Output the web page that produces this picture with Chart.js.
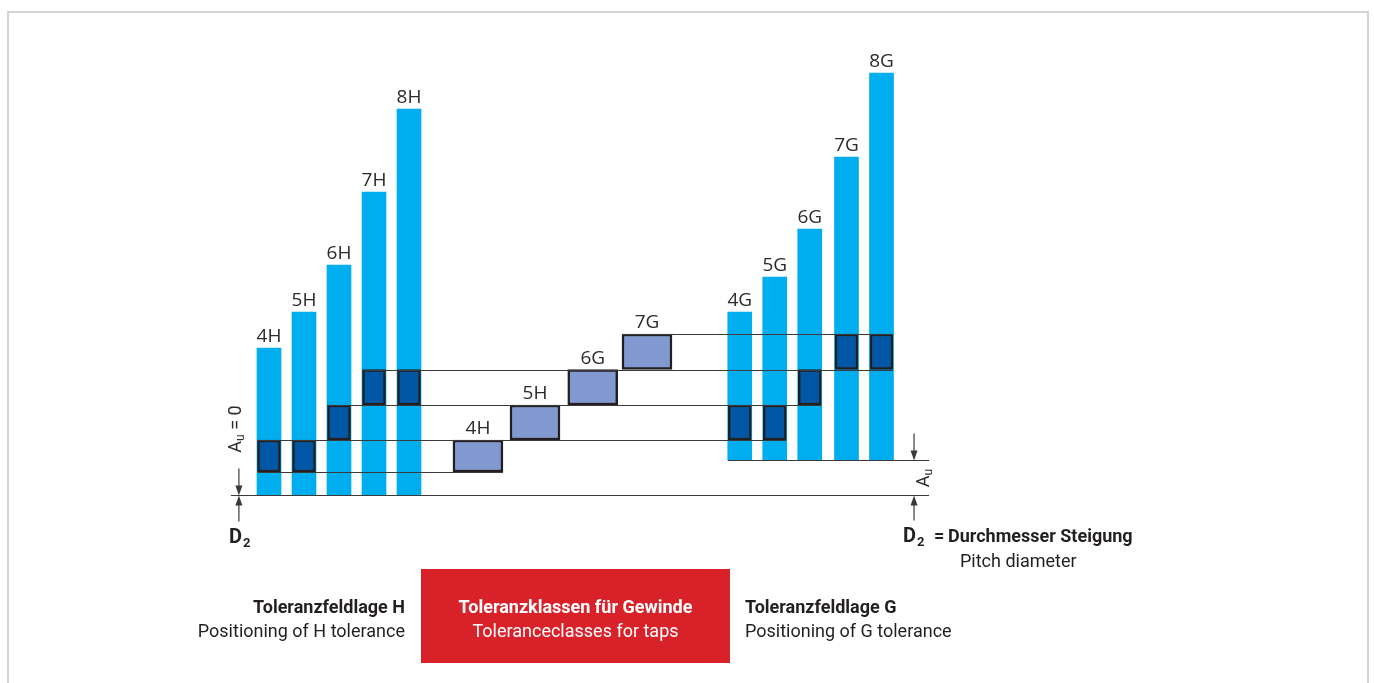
<!DOCTYPE html>
<html>
<head>
<meta charset="utf-8">
<title>Toleranzklassen für Gewinde</title>
<script src="https://cdn.jsdelivr.net/npm/chart.js@4/dist/chart.umd.min.js"></script>
<style>
  html, body { margin: 0; padding: 0; background: #fff; }
  #wrap { position: relative; width: 1374px; height: 683px; overflow: hidden;
          font-family: Roboto, "Liberation Sans", sans-serif; color: #231f20; }
  #frame { position: absolute; left: 7px; top: 11px; width: 1358px; height: 720px;
           border: 2px solid #d3d3d3; border-bottom: none; }
  #chart { position: absolute; left: 0; top: 0; }
  .t { position: absolute; font-size: 18px; line-height: 24px; white-space: nowrap; }
  .b { font-weight: bold; }
  .r { text-align: right; }
  .sub { font-size: 13px; position: relative; top: 4px; margin-left: 1px; }
  #redbox { position: absolute; left: 421px; top: 569px; width: 309px; height: 94px; background: #d9212a; }
  #redbox .t { color: #fff; left: 0; width: 309px; text-align: center; }
</style>
</head>
<body>
<div id="wrap">
  <div id="frame"></div>
  <canvas id="chart" width="1374" height="683"></canvas>

  <div class="t b" style="left:229px; top:524px; font-size:20px;">D<span class="sub">2</span></div>
  <div class="t b" style="left:903px; top:523px; font-size:20px;">D<span class="sub">2</span></div>
  <div class="t b" style="left:934px; top:524px;">=</div>
  <div class="t b" style="left:948px; top:524px;">Durchmesser Steigung</div>
  <div class="t" style="left:960px; top:549px;">Pitch diameter</div>

  <div class="t b r" style="right:969px; top:595px;">Toleranzfeldlage H</div>
  <div class="t r" style="right:969px; top:619px;">Positioning of H tolerance</div>

  <div id="redbox">
    <div class="t b" style="top:26px;">Toleranzklassen für Gewinde</div>
    <div class="t" style="top:50px;">Toleranceclasses for taps</div>
  </div>

  <div class="t b" style="left:745px; top:595px;">Toleranzfeldlage G</div>
  <div class="t" style="left:745px; top:619px;">Positioning of G tolerance</div>
</div>

<script>
// Toleranzfeldlage H (Balken ab D2 = 0)
const hLabels = ['4H', '5H', '6H', '7H', '8H'];
const hPos = [1, 2, 3, 4, 5];
const hTops = [147, 183, 230, 303, 386];
const hBoxes = [[23, 55], [23, 55], [55, 90], [90, 125.5], [90, 125.5]];

// Toleranzfeldlage G (Balken ab A_u)
const gLabels = ['4G', '5G', '6G', '7G', '8G'];
const gPos = [14.45, 15.45, 16.45, 17.5, 18.5];
const gBase = 35;
const gTops = [183, 218, 266, 338, 422];
const gBoxes = [[55, 90], [55, 90], [90, 125.5], [125.5, 161], [125.5, 161]];

// Toleranzklassen in der Mitte
const midLabels = ['4H', '5H', '6G', '7G'];
const midPos = [6.97, 8.6, 10.25, 11.8];
const midBoxes = [[23, 55], [55, 90], [90, 125.5], [125.5, 161]];

// Hilfslinien und Maßpfeile
const levels = [23, 55, 90, 125.5, 161];
const dimPos = [0.14, 19.43];

const lightBlue = '#00adee';
const darkBlue = '#0057a5';
const violet = '#8099d1';
const edge = '#231f20';

function floating(pos, ranges) {
    return pos.map((x, i) => ({ x: x, y: ranges[i] }));
}

function line(ctx, x1, y1, x2, y2) {
    ctx.beginPath();
    ctx.moveTo(x1, y1);
    ctx.lineTo(x2, y2);
    ctx.stroke();
}

function arrow(ctx, x, from, to) {
    const dir = Math.sign(to - from);
    line(ctx, x, from, x, to - dir * 8);
    ctx.beginPath();
    ctx.moveTo(x, to);
    ctx.lineTo(x - 3.5, to - dir * 10);
    ctx.lineTo(x + 3.5, to - dir * 10);
    ctx.closePath();
    ctx.fill();
}

function rotatedAu(ctx, cx, cy, suffix) {
    ctx.save();
    ctx.translate(cx, cy);
    ctx.rotate(-Math.PI / 2);
    ctx.textAlign = 'left';
    ctx.textBaseline = 'alphabetic';
    const big = '18px Roboto', small = '12px Roboto';
    ctx.font = big;
    const wA = ctx.measureText('A').width;
    const ws = suffix ? ctx.measureText(suffix).width : 0;
    ctx.font = small;
    const wu = ctx.measureText('u').width;
    let x = -(wA + wu + ws) / 2;
    ctx.font = big;
    ctx.fillText('A', x, 6);
    x += wA;
    ctx.font = small;
    ctx.fillText('u', x, 9);
    x += wu;
    if (suffix) {
        ctx.font = big;
        ctx.fillText(suffix, x, 6);
    }
    ctx.restore();
}

// Linien, Pfeile und Beschriftungen
const annotations = {
    id: 'annotations',
    afterDatasetsDraw(chart) {
        const ctx = chart.ctx;
        const xs = chart.scales.x, ys = chart.scales.y;
        ctx.save();
        ctx.strokeStyle = '#3a3a3a';
        ctx.fillStyle = '#3a3a3a';
        ctx.lineWidth = 1.2;

        const boxes = [];
        [[2, hBoxes], [3, gBoxes], [4, midBoxes]].forEach(([ds, ranges]) => {
            chart.getDatasetMeta(ds).data.forEach((el, i) => {
                boxes.push({ lo: ranges[i][0], hi: ranges[i][1],
                             left: el.x - el.width / 2, right: el.x + el.width / 2 });
            });
        });
        levels.forEach(lv => {
            const hit = boxes.filter(b => b.lo === lv || b.hi === lv);
            const left = Math.min(...hit.map(b => b.left));
            const right = Math.max(...hit.map(b => b.right));
            const py = Math.round(ys.getPixelForValue(lv)) + 0.5;
            line(ctx, left, py, right, py);
        });

        const dl = xs.getPixelForValue(dimPos[0]);
        const dr = xs.getPixelForValue(dimPos[1]);
        const y0 = Math.round(ys.getPixelForValue(0)) + 0.5;
        const yg = Math.round(ys.getPixelForValue(gBase)) + 0.5;
        line(ctx, dl - 8, y0, dr + 15, y0);
        const g0 = chart.getDatasetMeta(1).data[0];
        line(ctx, g0.x - g0.width / 2, yg, dr + 15, yg);

        arrow(ctx, dl, y0 - 27, y0);
        arrow(ctx, dl, y0 + 26, y0);
        arrow(ctx, dr, yg - 27, yg);
        arrow(ctx, dr, y0 + 25, y0);

        ctx.fillStyle = '#2b2b2b';
        rotatedAu(ctx, dl - 4, ys.getPixelForValue(66), ' = 0');
        rotatedAu(ctx, dr + 9, (y0 + yg) / 2, '');

        ctx.font = '19px "Open Sans"';
        ctx.textAlign = 'center';
        ctx.textBaseline = 'alphabetic';
        [[0, hLabels], [1, gLabels], [4, midLabels]].forEach(([ds, labels]) => {
            chart.getDatasetMeta(ds).data.forEach((el, i) => {
                ctx.fillText(labels[i], el.x, el.y - 6);
            });
        });
        ctx.restore();
    }
};

const ctx = document.getElementById('chart').getContext('2d');
new Chart(ctx, {
    type: 'bar',
    data: {
        datasets: [
            {
                label: 'H',
                data: floating(hPos, hTops.map(t => [0, t])),
                backgroundColor: lightBlue,
                barThickness: 24,
                order: 3
            },
            {
                label: 'G',
                data: floating(gPos, gTops.map(t => [gBase, t])),
                backgroundColor: lightBlue,
                barThickness: 24,
                order: 3
            },
            {
                label: 'H Klassen',
                data: floating(hPos, hBoxes),
                backgroundColor: darkBlue,
                borderColor: edge,
                borderWidth: 2.5,
                borderSkipped: false,
                barThickness: 23,
                order: 1
            },
            {
                label: 'G Klassen',
                data: floating(gPos, gBoxes),
                backgroundColor: darkBlue,
                borderColor: edge,
                borderWidth: 2.5,
                borderSkipped: false,
                barThickness: 23,
                order: 1
            },
            {
                label: 'Toleranzklassen',
                data: floating(midPos, midBoxes),
                backgroundColor: violet,
                borderColor: edge,
                borderWidth: 2.5,
                borderSkipped: false,
                barThickness: 50,
                order: 1
            }
        ]
    },
    options: {
        responsive: false,
        animation: false,
        events: [],
        grouped: false,
        layout: { padding: 0 },
        scales: {
            x: { type: 'linear', display: false, offset: false, min: -6.6857, max: 32.5714 },
            y: { type: 'linear', display: false, min: -188, max: 495 }
        },
        plugins: {
            legend: { display: false },
            tooltip: { enabled: false }
        }
    },
    plugins: [annotations]
});
</script>
</body>
</html>
